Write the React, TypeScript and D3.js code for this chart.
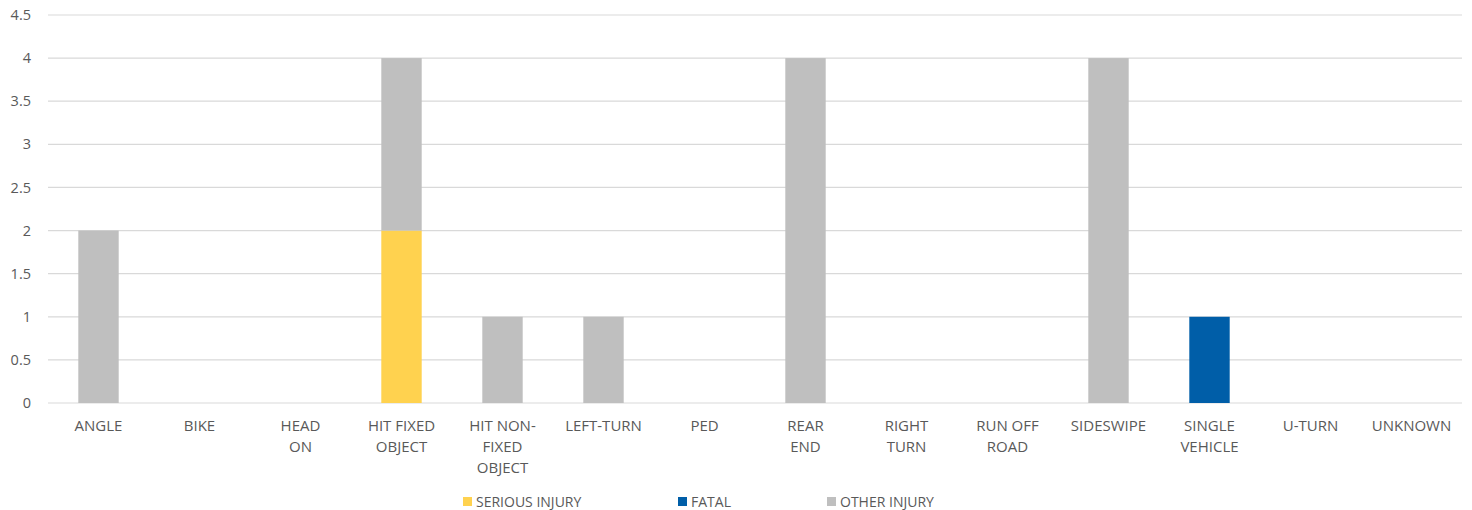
import React from 'react';
import * as d3 from 'd3';

const categories = [
  'ANGLE', 'BIKE', 'HEAD ON', 'HIT FIXED OBJECT', 'HIT NON-FIXED OBJECT', 'LEFT-TURN', 'PED',
  'REAR END', 'RIGHT TURN', 'RUN OFF ROAD', 'SIDESWIPE', 'SINGLE VEHICLE', 'U-TURN', 'UNKNOWN',
];
// wrapped axis labels, as they appear under each bar
const categoryLines = [
  ['ANGLE'], ['BIKE'], ['HEAD', 'ON'], ['HIT FIXED', 'OBJECT'], ['HIT NON-', 'FIXED', 'OBJECT'],
  ['LEFT-TURN'], ['PED'], ['REAR', 'END'], ['RIGHT', 'TURN'], ['RUN OFF', 'ROAD'], ['SIDESWIPE'],
  ['SINGLE', 'VEHICLE'], ['U-TURN'], ['UNKNOWN'],
];
const seriousInjury = [0, 0, 0, 2, 0, 0, 0, 0, 0, 0, 0, 0, 0, 0];
const fatal = [0, 0, 0, 0, 0, 0, 0, 0, 0, 0, 0, 1, 0, 0];
const otherInjury = [2, 0, 0, 2, 1, 1, 0, 4, 0, 0, 4, 0, 0, 0];
const yTicks = [0, 0.5, 1, 1.5, 2, 2.5, 3, 3.5, 4, 4.5];

const seriesNames = ['SERIOUS INJURY', 'FATAL', 'OTHER INJURY'];
const seriesColors = ['#FFD24F', '#005EA8', '#BFBFBF'];

const W = 1472;
const H = 510;
const left = 48;
const right = 1462;
const top = 15;
const bottom = 403;
const font = 'Open Sans, sans-serif';
const textColor = '#595959';

export default function App() {
  const x = d3.scaleBand<string>().domain(categories).range([left, right]).paddingInner(0.6).paddingOuter(0.3);
  const y = d3.scaleLinear().domain([0, 4.5]).range([bottom, top]);

  const rows = categories.map((c, i) => ({
    cat: c,
    s0: seriousInjury[i],
    s1: fatal[i],
    s2: otherInjury[i],
  }));
  const stacked = d3.stack<any>().keys(['s0', 's1', 's2'])(rows);

  const legendX = [463, 678, 827];

  return (
    <div style={{ position: 'absolute', left: 0, top: 0, width: W, height: H }}>
      <svg width={W} height={H} style={{ display: 'block', background: '#fff' }}>
        {yTicks.map(t => (
          <g key={t}>
            <line x1={left} x2={right} y1={y(t)} y2={y(t)} stroke="#D9D9D9" strokeWidth={1.2} />
            <text x={31} y={y(t)} dy="0.35em" textAnchor="end" fontSize={14.5} fontFamily={font} fill={textColor}>
              {t}
            </text>
          </g>
        ))}
        {stacked.map((layer, si) => (
          <g key={si} fill={seriesColors[si]}>
            {layer.map((d, i) =>
              d[1] - d[0] > 0 ? (
                <rect key={i} x={x(categories[i])} width={x.bandwidth()} y={y(d[1])} height={y(d[0]) - y(d[1])} />
              ) : null
            )}
          </g>
        ))}
        {categoryLines.map((lines, i) => (
          <text key={i} textAnchor="middle" fontSize={15} fontFamily={font} fill={textColor}>
            {lines.map((l, j) => (
              <tspan key={j} x={(x(categories[i]) as number) + x.bandwidth() / 2} y={431 + j * 21}>
                {l}
              </tspan>
            ))}
          </text>
        ))}
        {seriesNames.map((n, i) => (
          <g key={n}>
            <rect x={legendX[i]} y={497} width={9} height={9} fill={seriesColors[i]} />
            <text x={legendX[i] + 13} y={502} dy="0.35em" fontSize={14} fontFamily={font} fill={textColor}>
              {n}
            </text>
          </g>
        ))}
      </svg>
    </div>
  );
}
